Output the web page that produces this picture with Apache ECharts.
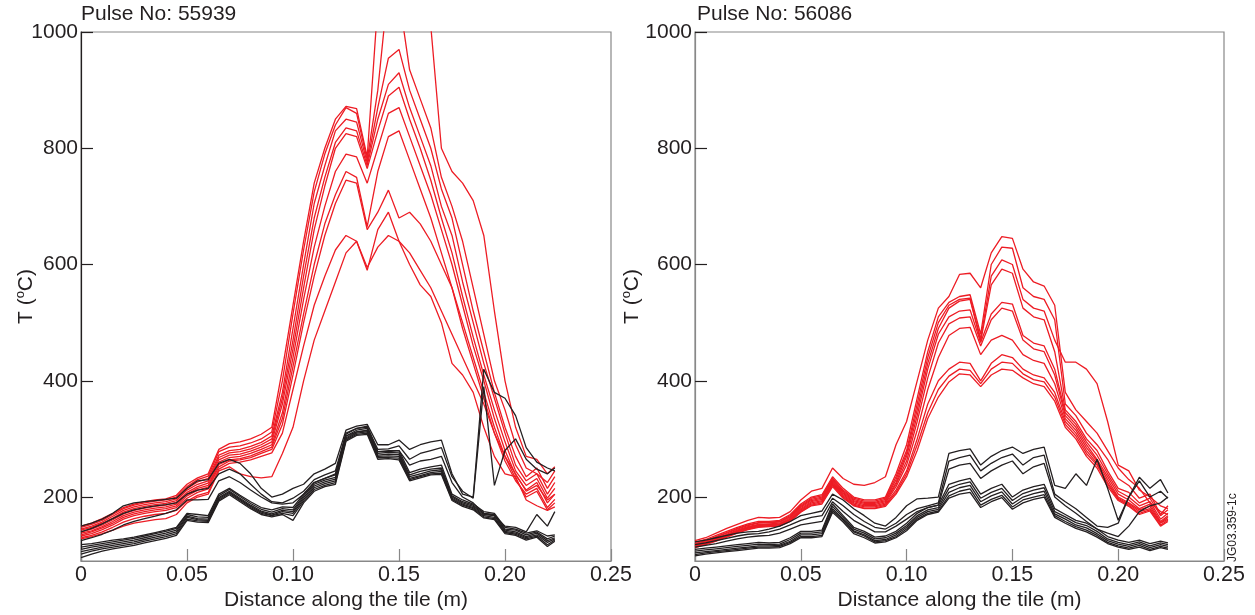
<!DOCTYPE html>
<html>
<head>
<meta charset="utf-8">
<script src="https://cdn.jsdelivr.net/npm/echarts@6/dist/echarts.min.js"></script>
<style>
html,body{margin:0;padding:0;background:#fff;}
#chart{width:1255px;height:615px;}
</style>
</head>
<body>
<div id="chart"></div>
<script>
// Distance along the tile (m)
const distances = [0,0.005,0.01,0.015,0.02,0.025,0.03,0.035,0.04,0.045,0.05,0.055,0.06,0.065,0.07,0.075,0.08,0.085,0.09,0.095,0.10,0.105,0.11,0.115,0.12,0.125,0.13,0.135,0.14,0.145,0.15,0.155,0.16,0.165,0.17,0.175,0.18,0.185,0.19,0.195,0.20,0.205,0.21,0.215,0.22,0.2235];

const xTicks = [0,0.05,0.10,0.15,0.20,0.25];
const yTicks = [200,400,600,800,1000];

const pulseTitles = ["Pulse No: 55939","Pulse No: 56086"];

// Pulse 55939 – red traces (T in °C)
const p1Red = [
 [150,155,163,172,182,188,192,195,197,203,222,233,240,282,292,295,300,308,320,420,530,640,740,800,850,872,868,785,1050,1120,1150,1130,1080,1010,800,760,740,710,650,520,400,320,270,265,240,252],
 [148,153,160,170,180,186,190,193,195,200,218,230,236,278,286,288,293,300,312,400,515,625,725,790,840,870,860,780,900,1080,1060,935,885,835,750,700,640,560,480,400,350,290,250,240,225,245],
 [145,150,157,167,177,183,187,190,192,197,215,226,232,272,280,282,287,294,305,380,490,600,705,770,830,850,845,775,870,955,970,900,850,800,730,680,600,520,450,380,320,270,235,250,215,235],
 [143,148,155,164,174,180,184,187,189,194,212,222,228,268,276,278,283,290,300,370,470,580,680,750,810,835,830,770,850,910,930,870,820,770,700,650,570,500,430,370,310,255,228,240,205,225],
 [140,145,152,161,171,177,181,184,186,191,208,218,224,264,272,274,279,286,295,360,455,560,660,735,800,825,820,765,830,890,905,850,800,745,680,620,545,475,410,350,295,245,220,232,198,215],
 [138,142,149,158,168,174,178,181,183,188,205,215,220,260,268,270,275,282,290,345,440,540,630,700,760,790,785,740,800,860,870,820,770,720,660,600,530,460,400,335,280,238,212,225,190,205],
 [135,140,147,155,165,171,175,178,180,185,202,212,217,256,264,266,271,278,286,335,425,515,600,670,720,760,750,665,760,820,830,780,730,680,620,560,490,430,370,310,262,228,205,215,182,196],
 [133,137,144,152,162,168,172,175,177,182,198,208,214,252,262,264,268,275,282,325,410,500,580,650,705,745,740,660,690,728,680,690,670,640,600,560,500,440,380,320,270,232,200,210,178,190],
 [130,134,140,148,157,163,167,170,172,177,193,203,208,248,258,260,264,270,276,310,385,460,530,580,625,650,640,590,660,690,640,600,565,545,500,430,410,380,320,270,240,235,195,185,177,183],
 [128,132,137,143,150,155,158,161,163,170,190,200,205,245,252,240,235,233,235,275,320,400,470,520,570,620,640,595,630,650,640,620,590,560,520,480,440,400,360,310,270,240,210,220,195,205]
];

// Pulse 55939 – black traces
const p1Black = [
 [150,155,162,172,185,190,192,194,196,198,215,228,230,258,265,258,240,215,200,205,215,222,240,248,258,315,322,325,290,290,298,282,290,295,298,240,205,200,420,380,370,340,285,260,250,245],
 [140,146,154,163,172,178,182,185,187,190,205,212,215,240,248,240,222,205,192,190,198,210,230,238,245,310,318,320,282,283,288,265,275,280,285,235,210,198,390,220,280,300,265,248,240,250],
 [125,130,136,143,152,158,163,167,172,178,195,195,196,228,235,225,212,200,190,188,190,205,225,232,240,305,312,314,278,278,280,255,262,265,270,225,200,190,172,168,150,148,140,170,150,175],
 [118,120,123,126,128,131,135,139,143,148,172,170,168,205,215,203,192,182,178,183,182,205,225,232,238,308,318,322,278,280,280,242,248,252,255,205,195,188,175,172,148,145,138,142,133,135],
 [114,117,120,123,126,129,133,137,141,146,170,166,165,202,213,201,189,179,174,180,178,202,222,229,234,305,315,318,275,277,276,238,244,248,250,202,192,186,172,170,145,143,135,140,128,133],
 [110,114,117,120,123,126,130,134,138,143,167,163,162,199,210,198,186,176,171,177,175,199,219,226,231,302,312,315,272,274,273,235,240,245,247,200,190,184,170,168,143,140,132,138,125,130],
 [106,110,114,117,120,123,127,131,135,140,165,161,160,197,208,196,184,174,169,175,172,196,216,223,228,300,310,312,270,271,270,232,237,242,244,198,188,182,168,165,141,138,130,135,122,128],
 [102,107,111,114,117,120,124,128,132,137,162,159,158,195,206,194,182,172,168,172,168,193,213,220,225,298,308,310,268,268,267,230,235,240,241,196,186,180,166,163,139,136,128,133,118,126],
 [96,102,107,111,114,117,121,125,129,134,160,157,156,193,204,192,180,170,166,170,160,190,210,218,222,296,306,308,265,266,264,228,233,238,239,194,184,178,164,161,137,134,126,131,115,124]
];

// Pulse 56086 – red traces
const p2Red = [
 [125,130,138,146,153,160,165,164,165,175,195,210,215,250,232,222,220,225,235,290,330,400,470,525,545,583,585,560,620,648,645,592,570,563,530,380,350,330,310,280,250,230,215,190,175,170],
 [122,127,134,141,148,154,158,158,160,170,188,200,204,235,215,200,195,195,200,240,290,370,450,510,535,545,548,480,600,630,628,560,545,540,505,360,340,310,290,265,232,220,198,205,170,185],
 [120,125,132,139,146,152,156,157,158,168,186,198,202,232,212,198,193,193,198,235,280,360,440,500,530,540,542,472,580,608,600,540,525,520,470,432,432,420,395,330,255,245,212,200,185,180],
 [119,124,131,138,145,151,155,156,157,166,184,196,200,230,210,196,191,191,196,230,275,350,430,490,525,537,540,468,565,592,585,525,510,505,450,350,330,300,280,245,215,208,190,198,168,178],
 [118,123,129,136,143,149,153,154,155,164,182,194,198,228,208,194,189,189,194,225,270,340,420,480,510,520,522,466,515,535,532,478,465,460,420,345,325,295,272,240,210,200,185,192,162,172],
 [117,122,128,135,142,148,152,153,154,162,180,192,196,226,206,192,187,187,192,222,262,330,405,465,498,508,510,460,505,525,520,470,455,450,410,340,320,290,265,235,205,195,180,188,158,168],
 [116,121,127,134,141,147,151,152,153,161,178,190,194,224,204,190,185,185,190,218,255,315,385,440,478,490,492,445,470,478,470,445,435,430,395,335,315,285,262,230,200,190,178,184,156,165],
 [115,120,126,133,140,146,150,151,152,160,176,188,192,222,202,188,183,183,188,212,245,300,360,400,420,432,430,400,430,445,440,420,410,405,380,330,310,280,258,225,198,188,175,180,155,162],
 [114,119,125,132,139,145,149,150,151,159,175,186,190,220,200,186,181,181,186,208,240,290,345,385,408,420,418,395,420,432,430,412,402,398,372,325,305,275,255,222,196,186,172,178,152,160],
 [113,118,124,131,138,144,148,149,150,158,174,185,188,218,198,185,180,180,184,205,235,280,335,372,398,412,410,390,410,420,418,405,395,390,365,320,300,270,250,218,194,184,170,176,150,158]
];

// Pulse 56086 – black traces
const p2Black = [
 [123,126,130,134,138,140,141,145,150,158,168,172,176,205,195,180,168,155,150,165,185,197,198,200,275,280,283,255,270,280,286,275,282,286,220,215,240,220,265,215,160,200,234,215,230,207],
 [118,121,125,129,133,136,137,140,145,152,160,165,168,198,185,170,158,148,145,155,170,180,185,190,262,268,272,245,258,268,274,255,268,272,205,192,180,165,150,148,155,200,228,200,210,198],
 [114,117,120,124,128,131,133,134,138,145,152,155,158,192,175,160,150,140,140,150,162,175,182,186,248,255,258,232,245,255,262,240,252,258,200,185,172,158,145,138,132,150,175,185,190,200],
 [110,112,114,116,118,120,122,121,122,130,141,141,143,188,168,148,141,131,133,141,155,172,182,186,222,228,232,205,215,222,200,212,218,222,180,170,160,155,145,132,126,122,126,120,124,121],
 [107,109,111,113,115,117,119,118,119,127,138,138,140,184,165,145,138,128,130,138,151,168,178,182,215,222,226,198,208,215,194,206,212,216,175,166,156,151,141,128,122,118,123,116,121,118],
 [104,106,108,110,112,114,116,116,117,124,135,135,137,180,162,142,135,125,127,135,148,165,175,179,208,216,220,192,202,209,188,200,206,210,171,162,152,147,137,125,119,115,120,113,118,115],
 [101,104,106,108,110,112,114,114,115,122,132,132,134,177,160,140,133,123,125,132,145,162,172,176,202,210,214,186,196,203,183,195,200,204,168,158,149,143,134,122,116,112,117,110,115,112],
 [99,102,104,106,108,110,112,112,113,120,130,130,132,174,157,137,130,121,123,130,142,160,170,174,198,205,208,182,192,199,179,190,196,200,165,155,146,140,131,120,114,110,114,108,113,110]
];

const RED = '#ed1c24';
const BLACK = '#231f20';
const TXT = '#231f20';
const FONT = "'Liberation Sans', Arial, Helvetica, sans-serif";

const chart = echarts.init(document.getElementById('chart'), null, {renderer: 'canvas'});

const grids = [
  {left: 81, top: 32, width: 530, height: 529},
  {left: 695, top: 32, width: 529, height: 529}
];

function xAxisFor(i) {
  return {
    type: 'value', gridIndex: i, min: 0, max: 0.25, interval: 0.05,
    axisLine: {show: true, lineStyle: {color: '#888', width: 1.2}},
    axisTick: {show: true, inside: true, length: 12, lineStyle: {color: '#888', width: 1.2}},
    splitLine: {show: false},
    axisLabel: {
      margin: 3, fontSize: 21.5, color: TXT, fontFamily: FONT,
      formatter: v => (v === 0 ? '0' : v.toFixed(2))
    },
    name: 'Distance along the tile (m)', nameLocation: 'middle', nameGap: 29, nameMoveOverlap: false,
    nameTextStyle: {fontSize: 21, color: TXT, fontFamily: FONT}
  };
}
function yAxisFor(i, lineColor, gap) {
  return {
    type: 'value', gridIndex: i, min: 90, max: 1000,
    axisLine: {show: true, lineStyle: {color: lineColor, width: 1.2}},
    axisTick: {show: true, inside: true, length: 12, customValues: yTicks, lineStyle: {color: BLACK, width: 1.2}},
    splitLine: {show: false},
    axisLabel: {margin: 3, fontSize: 21, color: TXT, fontFamily: FONT, customValues: yTicks,
      formatter: v => String(v)},
    name: 'T ({s|o}C)', nameLocation: 'middle', nameGap: gap, nameRotate: 90, nameMoveOverlap: false,
    nameTextStyle: {fontSize: 21, color: TXT, fontFamily: FONT,
      rich: {s: {fontSize: 13, color: TXT, fontFamily: FONT, verticalAlign: 'top', lineHeight: 24}}}
  };
}

const series = [];
function addLines(group, gi, color) {
  group.forEach(vals => {
    series.push({
      type: 'line', xAxisIndex: gi, yAxisIndex: gi,
      data: distances.map((d, k) => [d, vals[k]]),
      symbol: 'none', clip: true, silent: true,
      lineStyle: {color: color, width: 1.3},
      itemStyle: {color: color}
    });
  });
}
addLines(p1Red, 0, RED);
addLines(p1Black, 0, BLACK);
addLines(p2Red, 1, RED);
addLines(p2Black, 1, BLACK);

chart.setOption({
  animation: false,
  backgroundColor: '#fff',
  title: [
    {text: pulseTitles[0], left: 81, top: 4, padding: 0, textStyle: {fontSize: 21, fontWeight: 'normal', color: TXT, fontFamily: FONT}},
    {text: pulseTitles[1], left: 697, top: 4, padding: 0, textStyle: {fontSize: 21, fontWeight: 'normal', color: TXT, fontFamily: FONT}}
  ],
  grid: grids.map(g => Object.assign({show: true, borderColor: '#888', borderWidth: 1.2, backgroundColor: 'transparent', containLabel: false, outerBoundsMode: 'none'}, g)),
  xAxis: [xAxisFor(0), xAxisFor(1)],
  yAxis: [yAxisFor(0, BLACK, 43), yAxisFor(1, '#888', 51)],
  series: series,
  graphic: [{
    type: 'text', x: 1239, y: 562, rotation: Math.PI / 2,
    style: {text: 'JG03.359-1c', fontSize: 12, fill: TXT, fontFamily: FONT, textAlign: 'left', textVerticalAlign: 'bottom'}
  }]
});
</script>
</body>
</html>
